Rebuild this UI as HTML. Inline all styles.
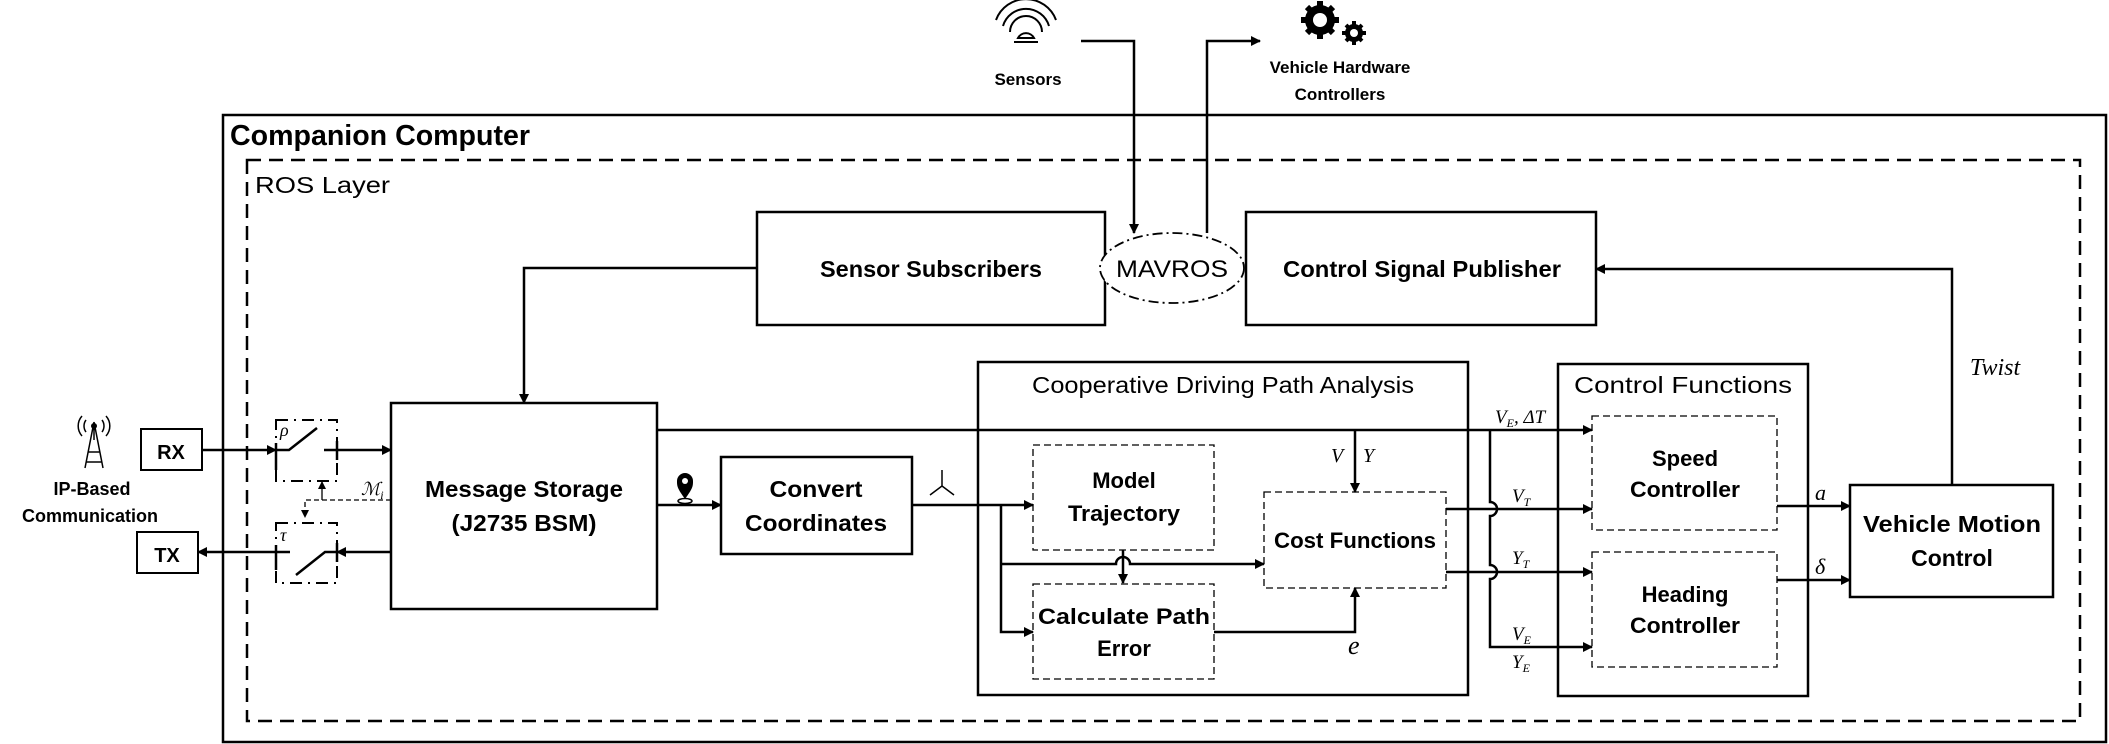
<!DOCTYPE html>
<html><head><meta charset="utf-8"><style>
html,body{margin:0;padding:0;background:#fff;}
svg{display:block;}
text{font-family:"Liberation Sans",sans-serif;fill:#000;}
.b{font-weight:bold;}
.m{font-family:"Liberation Serif",serif;font-style:italic;}
</style></head><body>
<svg width="2109" height="744" viewBox="0 0 2109 744" xmlns="http://www.w3.org/2000/svg">
<defs>
<marker id="ah" markerWidth="10" markerHeight="10" refX="9" refY="5" orient="auto" markerUnits="userSpaceOnUse">
<path d="M0,0 L10,5 L0,10 z" fill="#000"/></marker>
<marker id="ahs" markerWidth="8" markerHeight="8" refX="7" refY="4" orient="auto" markerUnits="userSpaceOnUse">
<path d="M0,0 L8,4 L0,8 z" fill="#000"/></marker>
</defs>
<g fill="none" stroke="#000">
<!-- outer boxes -->
<rect x="223" y="115" width="1883" height="627" stroke-width="2.5"/>
<rect x="247" y="160" width="1833" height="561" stroke-width="2.5" stroke-dasharray="14,8"/>
<!-- top blocks -->
<rect x="757" y="212" width="348" height="113" stroke-width="2.5"/>
<rect x="1246" y="212" width="350" height="113" stroke-width="2.5"/>
<ellipse cx="1172" cy="268" rx="72" ry="35" fill="#fff" stroke-width="1.8" stroke-dasharray="10,4,2,4"/>
<!-- main blocks -->
<rect x="391" y="403" width="266" height="206" stroke-width="2.5"/>
<rect x="721" y="457" width="191" height="97" stroke-width="2.5"/>
<rect x="978" y="362" width="490" height="333" stroke-width="2.5"/>
<rect x="1033" y="445" width="181" height="105" stroke-width="1.3" stroke-dasharray="7,4"/>
<rect x="1033" y="584" width="181" height="95" stroke-width="1.3" stroke-dasharray="7,4"/>
<rect x="1264" y="492" width="182" height="96" stroke-width="1.3" stroke-dasharray="7,4"/>
<rect x="1558" y="364" width="250" height="332" stroke-width="2.5"/>
<rect x="1592" y="416" width="185" height="114" stroke-width="1.3" stroke-dasharray="7,4"/>
<rect x="1592" y="552" width="185" height="115" stroke-width="1.3" stroke-dasharray="7,4"/>
<rect x="1850" y="485" width="203" height="112" stroke-width="2.5"/>
<rect x="141" y="429" width="61" height="41" stroke-width="2"/>
<rect x="137" y="532" width="61" height="41" stroke-width="2"/>
<!-- switches -->
<rect x="276" y="420" width="61" height="61" stroke-width="2" stroke-dasharray="12,6,2,6"/>
<rect x="276" y="523" width="61" height="60" stroke-width="2" stroke-dasharray="12,6,2,6"/>
<g stroke-width="2.5">
<path d="M202,450 H276" marker-end="url(#ah)"/>
<path d="M276,443 V470 M276,450 H289 L317,428 M324,450 H391" marker-end="url(#ah)"/>
<path d="M337,441 V460"/>
<path d="M391,552 H337" marker-end="url(#ah)"/>
<path d="M337,543 V562 M337,552 H325 L296,575 M290,552 H198" marker-end="url(#ah)"/>
<path d="M276,545 V570"/>
</g>
<path d="M391,500 H305 V517" stroke-width="1.3" stroke-dasharray="5,3" marker-end="url(#ahs)"/>
<path d="M322,500 V482" stroke-width="1.3" marker-end="url(#ahs)"/>
<!-- connectors -->
<g stroke-width="2.5">
<path d="M1081,41 H1134 V233" marker-end="url(#ah)"/>
<path d="M1207,233 V41 H1260" marker-end="url(#ah)"/>
<path d="M757,268 H524 V403" marker-end="url(#ah)"/>
<path d="M657,430 H1592" marker-end="url(#ah)"/>
<path d="M1355,430 V492" marker-end="url(#ah)"/>
<path d="M657,505 H721" marker-end="url(#ah)"/>
<path d="M912,505 H1033" marker-end="url(#ah)"/>
<path d="M1001,505 V632 H1033" marker-end="url(#ah)"/>
<path d="M1001,564 H1116 A7,7 0 0 1 1130,564 H1264" marker-end="url(#ah)"/>
<path d="M1123,550 V583" marker-end="url(#ah)"/>
<path d="M1214,632 H1355 V588" marker-end="url(#ah)"/>
<path d="M1490,430 V502 A7,7 0 0 1 1490,516 V565 A7,7 0 0 1 1490,579 V647 H1592" marker-end="url(#ah)"/>
<path d="M1446,509 H1592" marker-end="url(#ah)"/>
<path d="M1446,572 H1592" marker-end="url(#ah)"/>
<path d="M1777,506 H1850" marker-end="url(#ah)"/>
<path d="M1777,580 H1850" marker-end="url(#ah)"/>
<path d="M1952,485 V269 H1596" marker-end="url(#ah)"/>
</g>
<!-- sensor icon -->
<g stroke-width="2">
<path d="M996,20 A32,32 0 0 1 1056,20"/>
<path d="M1003,26 A24,24 0 0 1 1049,26"/>
<path d="M1010,32 A16,16 0 0 1 1042,32"/>
<path d="M1018,38 A9,9 0 0 1 1034,38 Z"/>
<path d="M1014,42 H1038"/>
</g>
<!-- antenna -->
<g stroke-width="1.5">
<path d="M94,422 L85,468 M94,422 L103,468 M88,452 H100 M86,462 H102 M94,422 V440"/>
<path d="M86,420 A10,10 0 0 0 86,432 M102,420 A10,10 0 0 1 102,432 M82,416 A15,15 0 0 0 82,436 M106,416 A15,15 0 0 1 106,436"/>
</g>
<!-- axis icon -->
<path d="M942,470 V486 L930,495 M942,486 L954,495" stroke-width="1.5"/>
</g>
<circle cx="94" cy="426" r="3" fill="#000"/>
<!-- pin -->
<path d="M685,499 C677,488 677,486 677,481 A8,8 0 0 1 693,481 C693,486 693,488 685,499 Z" fill="#000"/>
<circle cx="685" cy="481" r="3" fill="#fff"/>
<ellipse cx="685" cy="501" rx="7" ry="2.5" fill="none" stroke="#000" stroke-width="1.5"/>
<!-- gears -->
<g fill="#000">
<circle cx="1320" cy="20" r="15"/>
<g stroke="#000" stroke-width="6">
<path d="M1320,1 V39 M1301,20 H1339 M1307,7 L1333,33 M1333,7 L1307,33"/>
</g>
<circle cx="1320" cy="20" r="7" fill="#fff"/>
<circle cx="1354" cy="33" r="9"/>
<g stroke="#000" stroke-width="4"><path d="M1354,21 V45 M1342,33 H1366 M1346,25 L1362,41 M1362,25 L1346,41"/></g>
<circle cx="1354" cy="33" r="4" fill="#fff"/>
</g>
<!-- texts -->
<text x="230" y="145" font-size="29" class="b" textLength="300" lengthAdjust="spacingAndGlyphs">Companion Computer</text>
<text x="255" y="193" font-size="23" textLength="135" lengthAdjust="spacingAndGlyphs">ROS Layer</text>
<text x="1028" y="85" font-size="17" class="b" text-anchor="middle">Sensors</text>
<text x="1340" y="73" font-size="17" class="b" text-anchor="middle">Vehicle Hardware</text>
<text x="1340" y="100" font-size="17" class="b" text-anchor="middle">Controllers</text>
<text x="931" y="277" font-size="23" class="b" text-anchor="middle" textLength="222" lengthAdjust="spacingAndGlyphs">Sensor Subscribers</text>
<text x="1172" y="277" font-size="24" text-anchor="middle" textLength="112" lengthAdjust="spacingAndGlyphs">MAVROS</text>
<text x="1422" y="277" font-size="23" class="b" text-anchor="middle" textLength="278" lengthAdjust="spacingAndGlyphs">Control Signal Publisher</text>
<text x="524" y="497" font-size="23" class="b" text-anchor="middle" textLength="198" lengthAdjust="spacingAndGlyphs">Message Storage</text>
<text x="524" y="531" font-size="23" class="b" text-anchor="middle" textLength="145" lengthAdjust="spacingAndGlyphs">(J2735 BSM)</text>
<text x="816" y="497" font-size="23" class="b" text-anchor="middle" textLength="93" lengthAdjust="spacingAndGlyphs">Convert</text>
<text x="816" y="531" font-size="23" class="b" text-anchor="middle" textLength="142" lengthAdjust="spacingAndGlyphs">Coordinates</text>
<text x="1223" y="393" font-size="23" text-anchor="middle" textLength="382" lengthAdjust="spacingAndGlyphs">Cooperative Driving Path Analysis</text>
<text x="1124" y="488" font-size="22" class="b" text-anchor="middle">Model</text>
<text x="1124" y="521" font-size="22" class="b" text-anchor="middle" textLength="112" lengthAdjust="spacingAndGlyphs">Trajectory</text>
<text x="1124" y="624" font-size="22" class="b" text-anchor="middle" textLength="172" lengthAdjust="spacingAndGlyphs">Calculate Path</text>
<text x="1124" y="656" font-size="22" class="b" text-anchor="middle">Error</text>
<text x="1355" y="548" font-size="22" class="b" text-anchor="middle" textLength="162" lengthAdjust="spacingAndGlyphs">Cost Functions</text>
<text x="1683" y="393" font-size="23" text-anchor="middle" textLength="218" lengthAdjust="spacingAndGlyphs">Control Functions</text>
<text x="1685" y="466" font-size="22" class="b" text-anchor="middle">Speed</text>
<text x="1685" y="497" font-size="22" class="b" text-anchor="middle" textLength="110" lengthAdjust="spacingAndGlyphs">Controller</text>
<text x="1685" y="602" font-size="22" class="b" text-anchor="middle">Heading</text>
<text x="1685" y="633" font-size="22" class="b" text-anchor="middle" textLength="110" lengthAdjust="spacingAndGlyphs">Controller</text>
<text x="1952" y="532" font-size="23" class="b" text-anchor="middle" textLength="178" lengthAdjust="spacingAndGlyphs">Vehicle Motion</text>
<text x="1952" y="566" font-size="23" class="b" text-anchor="middle">Control</text>
<text x="171" y="459" font-size="20" class="b" text-anchor="middle">RX</text>
<text x="167" y="562" font-size="20" class="b" text-anchor="middle">TX</text>
<text x="92" y="495" font-size="18" class="b" text-anchor="middle">IP-Based</text>
<text x="90" y="522" font-size="18" class="b" text-anchor="middle">Communication</text>
<!-- math labels -->
<text x="280" y="436" font-size="18" class="m">ρ</text>
<text x="280" y="541" font-size="18" class="m">τ</text>
<text x="361" y="495" font-size="18" class="m">ℳ<tspan font-size="12" dy="4">i</tspan></text>
<text x="1331" y="462" font-size="20" class="m">V</text>
<text x="1363" y="462" font-size="20" class="m">Y</text>
<text x="1348" y="654" font-size="26" class="m">e</text>
<text x="1495" y="423" font-size="19" class="m">V<tspan font-size="12" dy="4">E</tspan><tspan dy="-4">, ΔT</tspan></text>
<text x="1512" y="502" font-size="19" class="m">V<tspan font-size="12" dy="4">T</tspan></text>
<text x="1512" y="564" font-size="19" class="m">Y<tspan font-size="12" dy="4">T</tspan></text>
<text x="1512" y="640" font-size="19" class="m">V<tspan font-size="12" dy="4">E</tspan></text>
<text x="1512" y="668" font-size="19" class="m">Y<tspan font-size="12" dy="4">E</tspan></text>
<text x="1815" y="500" font-size="22" class="m">a</text>
<text x="1815" y="574" font-size="22" class="m">δ</text>
<text x="1995" y="375" font-size="24" class="m" text-anchor="middle">Twist</text>
</svg>
</body></html>
